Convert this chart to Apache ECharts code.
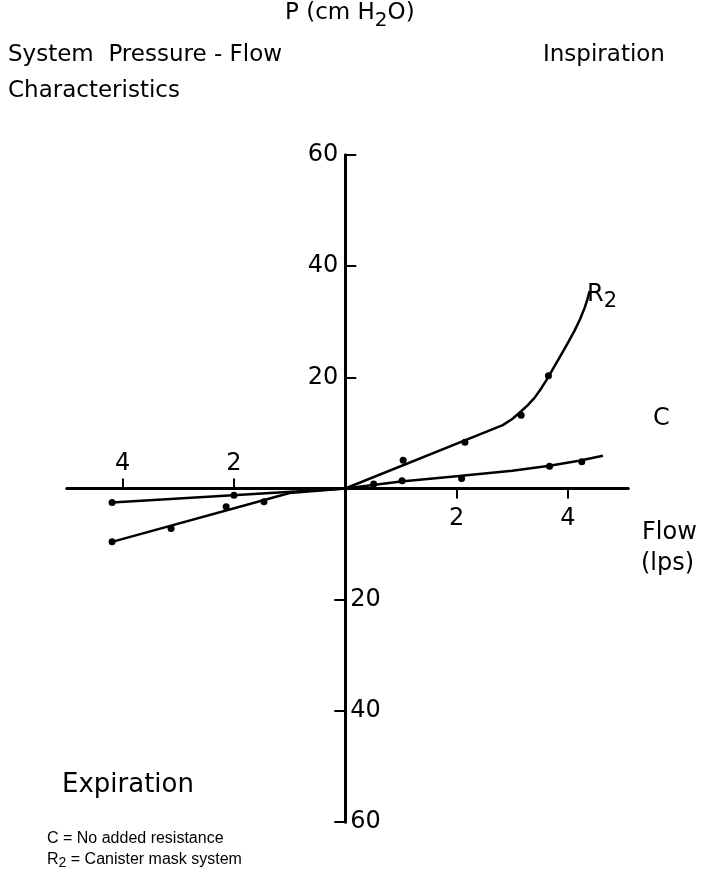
<!DOCTYPE html>
<html>
<head>
<meta charset="utf-8">
<script src="https://cdn.jsdelivr.net/npm/echarts@6/dist/echarts.min.js"></script>
<style>
  html, body { margin: 0; background: #fff; }
  #chart { width: 704px; height: 896px; }
</style>
</head>
<body>
<div id="chart"></div>
<script>
  // tick positions (labels are shown as absolute values)
  const xTicksExp = [-4, -2];
  const xTicksInsp = [2, 4];
  const yTicksUp = [20, 40, 60];
  const yTicksDown = [-20, -40, -60];

  // measured points (flow lps, pressure cm H2O)
  const cDotsInsp = [[0.51, 0.8], [1.02, 1.4], [2.09, 1.8], [3.67, 4.0], [4.25, 4.8]];
  const cDotsExp = [[-4.19, -2.5], [-2.0, -1.2]];
  const r2DotsInsp = [[1.04, 5.1], [2.15, 8.3], [3.16, 13.2], [3.65, 20.3]];
  const r2DotsExp = [[-4.19, -9.6], [-3.13, -7.2], [-2.14, -3.3], [-1.46, -2.4]];

  // hand drawn curves
  const cLineExp = [[-4.19, -2.5], [0, 0]];
  const cLineInsp = [[0, 0], [1, 1.25], [2, 2.2], [3, 3.2], [3.67, 4.1], [4.2, 5.0], [4.63, 5.9]];
  const r2LineExp = [[-4.19, -9.6], [-1.0, -0.8], [0, 0]];
  const r2LineInsp = [[0, 0], [2.83, 11.4], [3.0, 12.5], [3.16, 13.9], [3.28, 15.0], [3.4, 16.3],
    [3.52, 18.0], [3.64, 19.9], [3.76, 22.0], [3.88, 24.1], [4.0, 26.2], [4.12, 28.4],
    [4.22, 30.5], [4.3, 32.5], [4.35, 34.0], [4.39, 35.5]];

  const numFont = { fontFamily: 'DejaVu Sans', fontSize: 24, color: '#000' };
  const absLabel = (p) => String(Math.abs(p.value[0] || p.value[1]));

  const chart = echarts.init(document.getElementById('chart'));

  const lineSeries = (data) => ({
    type: 'line',
    data: data,
    showSymbol: false,
    silent: true,
    lineStyle: { color: '#000', width: 2.5, join: 'round' },
  });
  const dotSeries = (data) => ({
    type: 'scatter',
    data: data,
    symbolSize: 7,
    silent: true,
    itemStyle: { color: '#000', opacity: 1 },
  });
  // tick labels sit on the zero lines, so they ride on an invisible scatter
  const tickLabels = (data, position, distance) => ({
    type: 'scatter',
    data: data,
    symbolSize: 0,
    silent: true,
    itemStyle: { color: '#000', opacity: 1 },
    label: Object.assign({ show: true, position: position, distance: distance, formatter: absLabel }, numFont),
  });

  const axisBase = {
    type: 'value',
    splitLine: { show: false },
    axisLabel: { show: false },
  };

  chart.setOption({
    animation: false,
    backgroundColor: '#fff',
    grid: { left: 67, right: 76, top: 155, bottom: 74 },
    xAxis: [
      Object.assign({}, axisBase, {
        min: -5.0, max: 5.08,
        axisLine: { onZero: true, onZeroAxisIndex: 0, lineStyle: { color: '#000', width: 3 } },
        axisTick: { customValues: xTicksExp, inside: true, length: 10, lineStyle: { color: '#000', width: 2 } },
      }),
      Object.assign({}, axisBase, {
        min: -5.0, max: 5.08, position: 'bottom',
        axisLine: { onZero: true, onZeroAxisIndex: 1, lineStyle: { color: '#000', width: 3 } },
        axisTick: { customValues: xTicksInsp, length: 10, lineStyle: { color: '#000', width: 2 } },
      }),
    ],
    yAxis: [
      Object.assign({}, axisBase, {
        min: -60, max: 60,
        axisLine: { onZero: true, onZeroAxisIndex: 0, lineStyle: { color: '#000', width: 3 } },
        axisTick: { customValues: yTicksUp, inside: true, length: 11, lineStyle: { color: '#000', width: 2 } },
      }),
      Object.assign({}, axisBase, {
        min: -60, max: 60, position: 'left',
        axisLine: { onZero: true, onZeroAxisIndex: 1, lineStyle: { color: '#000', width: 3 } },
        axisTick: { customValues: yTicksDown, length: 11, lineStyle: { color: '#000', width: 2 } },
      }),
    ],
    series: [
      lineSeries(cLineExp),
      lineSeries(cLineInsp),
      lineSeries(r2LineExp),
      lineSeries(r2LineInsp),
      dotSeries(cDotsInsp),
      dotSeries(cDotsExp),
      dotSeries(r2DotsInsp),
      dotSeries(r2DotsExp),
      tickLabels(xTicksExp.map((v) => [v, 0]), 'top', 13),
      tickLabels(xTicksInsp.map((v) => [v, 0]), 'bottom', 18),
      tickLabels(yTicksUp.map((v) => [0, v]), 'left', 7),
      tickLabels(yTicksDown.map((v) => [0, v]), 'right', 5),
    ],
    graphic: [
      {
        type: 'text', left: 285, top: 2,
        style: {
          text: 'P (cm H{sub|2}O)', fontFamily: 'DejaVu Sans', fontSize: 23, fill: '#000',
          rich: { sub: { fontFamily: 'DejaVu Sans', fontSize: 20, padding: [14, 0, 0, 0] } },
        },
      },
      { type: 'text', left: 8, top: 44, style: { text: 'System  Pressure - Flow', fontFamily: 'DejaVu Sans', fontSize: 23, fill: '#000' } },
      { type: 'text', left: 8, top: 80, style: { text: 'Characteristics', fontFamily: 'DejaVu Sans', fontSize: 23, fill: '#000' } },
      { type: 'text', left: 543, top: 44, style: { text: 'Inspiration', fontFamily: 'DejaVu Sans', fontSize: 23, fill: '#000' } },
      {
        type: 'text', left: 587, top: 283,
        style: {
          text: 'R{sub|2}', fontFamily: 'DejaVu Sans', fontSize: 24, fill: '#000',
          rich: { sub: { fontFamily: 'DejaVu Sans', fontSize: 21, padding: [14, 0, 0, 0] } },
        },
      },
      { type: 'text', left: 653, top: 407, style: { text: 'C', fontFamily: 'DejaVu Sans', fontSize: 24, fill: '#000' } },
      { type: 'text', left: 642, top: 521, style: { text: 'Flow', fontFamily: 'DejaVu Sans', fontSize: 24, fill: '#000' } },
      { type: 'text', left: 641, top: 552, style: { text: '(lps)', fontFamily: 'DejaVu Sans', fontSize: 24, fill: '#000' } },
      { type: 'text', left: 62, top: 772, style: { text: 'Expiration', fontFamily: 'DejaVu Sans', fontSize: 26, fill: '#000' } },
      { type: 'text', left: 47, top: 831, style: { text: 'C = No added resistance', fontFamily: 'Liberation Sans', fontSize: 16, fill: '#000' } },
      {
        type: 'text', left: 47, top: 852,
        style: {
          text: 'R{sub|2} = Canister mask system', fontFamily: 'Liberation Sans', fontSize: 16, fill: '#000',
          rich: { sub: { fontFamily: 'Liberation Sans', fontSize: 14, padding: [7, 0, 0, 0] } },
        },
      },
    ],
  });
</script>
</body>
</html>
